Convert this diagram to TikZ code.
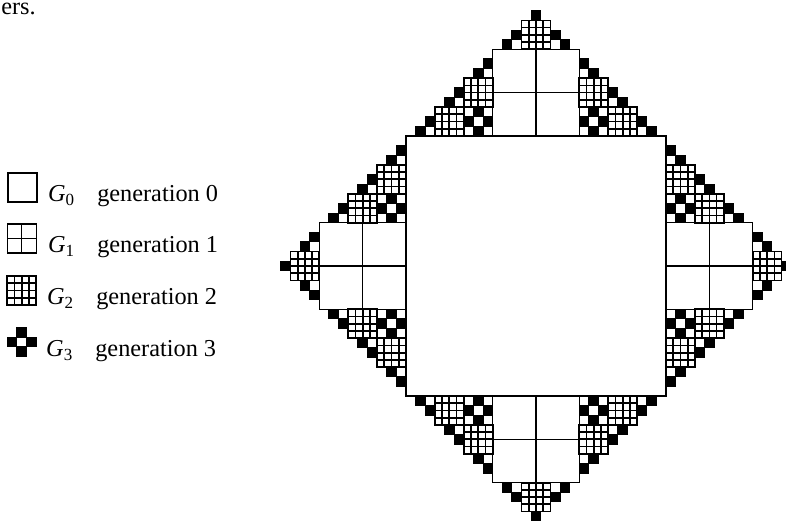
\documentclass[tikz,border=0pt]{standalone}
\usepackage{fontspec}
\setmainfont{Liberation Serif}
\usepackage{tikz}

\begin{document}
\begin{tikzpicture}[
            x=4.815pt, y=-4.815pt,
            every node/.style={font=\fontsize{12.15}{14}\selectfont, inner sep=0pt},
            genzero/.style={
                    draw,
                    line width=0.9pt
                },
            genone/.style={
                    draw,
                    line width=0.7pt
                },
            gentwo/.style={
                    draw,
                    line width=0.85pt
                },
            genthree/.style={
                    fill=black,
                    draw=black,
                    line width=0.5pt
                },
            keytext/.style={
                    anchor=base west
                }
        ]

        \useasboundingbox (-42.16,-14.12) rectangle (39.46,39.98);

        \node[keytext] (cut) at (-42.06,-12.6) {ers.};

        % one arm of the figure, turned to all four sides
        \foreach \turn in {0,90,180,270} {
            \begin{scope}[rotate around={\turn:(13.5,13.5)}]
                % generation 3
                \foreach \cx/\cy in {1/-1,2/-2,4/-4,5/-5,6/-2,7/-3,7/-1,8/-2,7/-7,8/-8,
                        10/-10,11/-11,13/-13,15/-11,16/-10,18/-8,19/-7,18/-2,19/-1,
                        19/-3,20/-2,21/-5,22/-4,24/-2,25/-1}
                    \filldraw[genthree] (\cx,\cy) rectangle ++(1,1);
                % generation 2
                \foreach \cx/\cy in {3/-3,6/-6,12/-12,18/-6,21/-3} {
                    \draw[gentwo] (\cx,\cy) rectangle ++(3,3);
                    \foreach \k in {0.75,1.5,2.25}
                        \draw[gentwo] (\cx+\k,\cy) -- ++(0,3) (\cx,\cy+\k) -- ++(3,0);
                }
                % generation 1
                \draw[genone] (9,-9) rectangle (18,0)
                    (13.5,-9) -- (13.5,0) (9,-4.5) -- (18,-4.5);
            \end{scope}
        }

        % generation 0
        \draw[genzero] (0,0) rectangle (27,27);

        % key
        \draw[genzero] (-41.3,3.85) rectangle ++(3,3);

        \draw[genone] (-41.4,9.15) rectangle ++(3,3)
            (-39.9,9.15) -- ++(0,3) (-41.4,10.65) -- ++(3,0);

        \draw[gentwo] (-41.4,14.55) rectangle ++(3,3);
        \foreach \k in {0.75,1.5,2.25}
            \draw[gentwo] (-41.4+\k,14.55) -- ++(0,3) (-41.4,14.55+\k) -- ++(3,0);

        \foreach \cx/\cy in {-40.4/19.9,-41.4/20.9,-39.4/20.9,-40.4/21.9}
            \filldraw[genthree] (\cx,\cy) rectangle ++(1,1);

        \node[keytext] (gzero) at (-37.2,6.85) {\textit{G}\textsubscript{0}};
        \node[keytext] (gone) at (-37.2,12.15) {\textit{G}\textsubscript{1}};
        \node[keytext] (gtwo) at (-37.3,17.55) {\textit{G}\textsubscript{2}};
        \node[keytext] (gthree) at (-37.4,22.9) {\textit{G}\textsubscript{3}};

        \node[keytext] (genzerotext) at (-32.1,6.85) {generation 0};
        \node[keytext] (genonetext) at (-32.1,12.15) {generation 1};
        \node[keytext] (gentwotext) at (-32.2,17.55) {generation 2};
        \node[keytext] (genthreetext) at (-32.3,22.9) {generation 3};

    \end{tikzpicture}
\end{document}
